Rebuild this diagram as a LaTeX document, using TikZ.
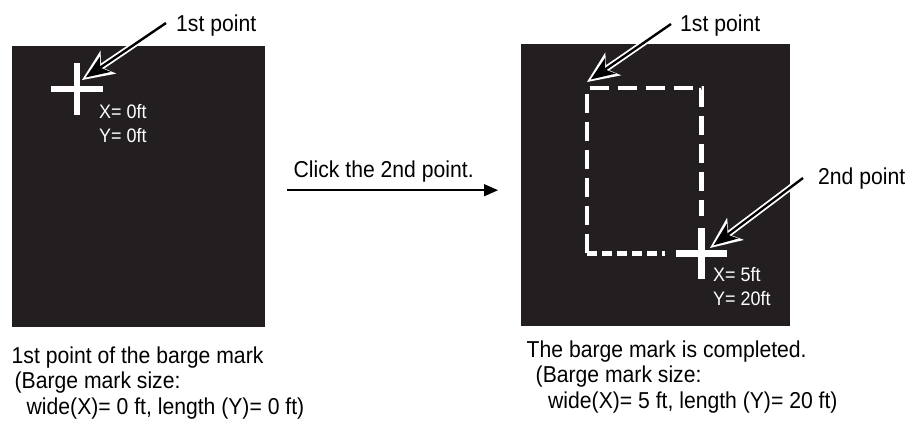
\documentclass[tikz,border=0pt]{standalone}
\usepackage{fontspec}
\setmainfont{Liberation Sans}[FakeStretch=0.92]
\usepackage{tikz}
\usetikzlibrary{arrows.meta,positioning,calc}
\definecolor{screenblack}{RGB}{35,31,32}

\begin{document}
\begin{tikzpicture}[x=1pt,y=-1pt]
  \tikzstyle{screen}=[rectangle,fill=screenblack,inner sep=0pt,anchor=north west]
  \tikzstyle{callout}=[font=\fontsize{23}{25.5}\selectfont,inner sep=0pt,anchor=base west]
  \tikzstyle{caption}=[font=\fontsize{23}{25.5}\selectfont,inner sep=0pt,align=left]
  \tikzstyle{readout}=[font=\fontsize{19.5}{23.5}\selectfont,text=white,inner sep=0pt,align=left,anchor=north west]
  \tikzstyle{crossbar}=[white,line width=6.5pt]
  \tikzstyle{markdash}=[white,line width=4.5pt,dash pattern=on 19pt off 9pt]
  \tikzstyle{hollowout}=[white,line width=6pt,-{Stealth[length=32pt,width=28pt,inset=9pt,line width=0pt]}]
  \tikzstyle{hollowin}=[black,line width=2.4pt,shorten >=4.5pt,-{Stealth[length=24pt,width=19pt,inset=6.5pt,line width=0pt]}]

  \useasboundingbox (0,0) rectangle (913,430);

  \node[screen,minimum width=253.5pt,minimum height=281pt] (leftbox) at (11.5,46) {};
  \node[screen,minimum width=269pt,minimum height=282pt] (rightbox) at (521,44) {};

  \coordinate (firstpt) at (77,89);
  \coordinate (secondpt) at (701.5,253.5);
  \coordinate (markcorner) at (587,88);

  \draw[markdash] (markcorner |- secondpt) -- (markcorner) -- (markcorner -| secondpt) -- ([yshift=37pt]secondpt);
  \draw[markdash,dash pattern=on 10pt off 5pt] (markcorner |- secondpt) -- ([xshift=-37pt]secondpt);

  \draw[crossbar] ([xshift=-26pt]firstpt) -- ([xshift=26pt]firstpt) ([yshift=26pt]firstpt) -- ([yshift=-26pt]firstpt);
  \draw[crossbar] ([xshift=-25.5pt]secondpt) -- ([xshift=25.5pt]secondpt) ([yshift=25.5pt]secondpt) -- ([yshift=-25.5pt]secondpt);

  \node[readout] (firstxy) at (99,104.5) {X= 0ft\\Y= 0ft};
  \node[readout] (secondxy) at (713,267.5) {X= 5ft\\Y= 20ft};

  \node[callout] (firstlbl) at (176,31.5) {1st point};
  \node[callout] (cornerlbl) at (680,32) {1st point};
  \node[callout] (secondlbl) at (818,184.5) {2nd point};

  \coordinate (firsttail) at (166,23);
  \coordinate (firsttip) at (82,80);
  \coordinate (cornertail) at (671,24);
  \coordinate (cornertip) at (587,82);
  \coordinate (secondtail) at (803,178);
  \coordinate (secondtip) at (710,248);

  \draw[hollowout] (firsttail) -- (firsttip);
  \draw[hollowin] (firsttail) -- (firsttip);
  \draw[hollowout] (cornertail) -- (cornertip);
  \draw[hollowin] (cornertail) -- (cornertip);
  \draw[hollowout] (secondtail) -- (secondtip);
  \draw[hollowin] (secondtail) -- (secondtip);

  \draw[-{Triangle[length=14pt,width=12pt]},line width=1.4pt,shorten <=22pt,shorten >=23pt] ([yshift=-3.5pt]leftbox.east) -- ([yshift=-3.5pt]leftbox.east -| rightbox.west)
    node[midway,above=7pt,xshift=-9.5pt,font=\fontsize{23}{25.5}\selectfont,inner sep=0pt] (clicklbl) {Click the 2nd point.};

  \node[caption,below=19pt of leftbox.south west,anchor=north west] (leftcap) {1st point of the barge mark\\\hspace*{3pt}(Barge mark size:\\\hspace*{15pt}wide(X)= 0 ft, length (Y)= 0 ft)};
  \node[caption,below=14pt of rightbox.south west,anchor=north west,xshift=5.5pt] (rightcap) {The barge mark is completed.\\\hspace*{9pt}(Barge mark size:\\\hspace*{21.5pt}wide(X)= 5 ft, length (Y)= 20 ft)};
\end{tikzpicture}
\end{document}
